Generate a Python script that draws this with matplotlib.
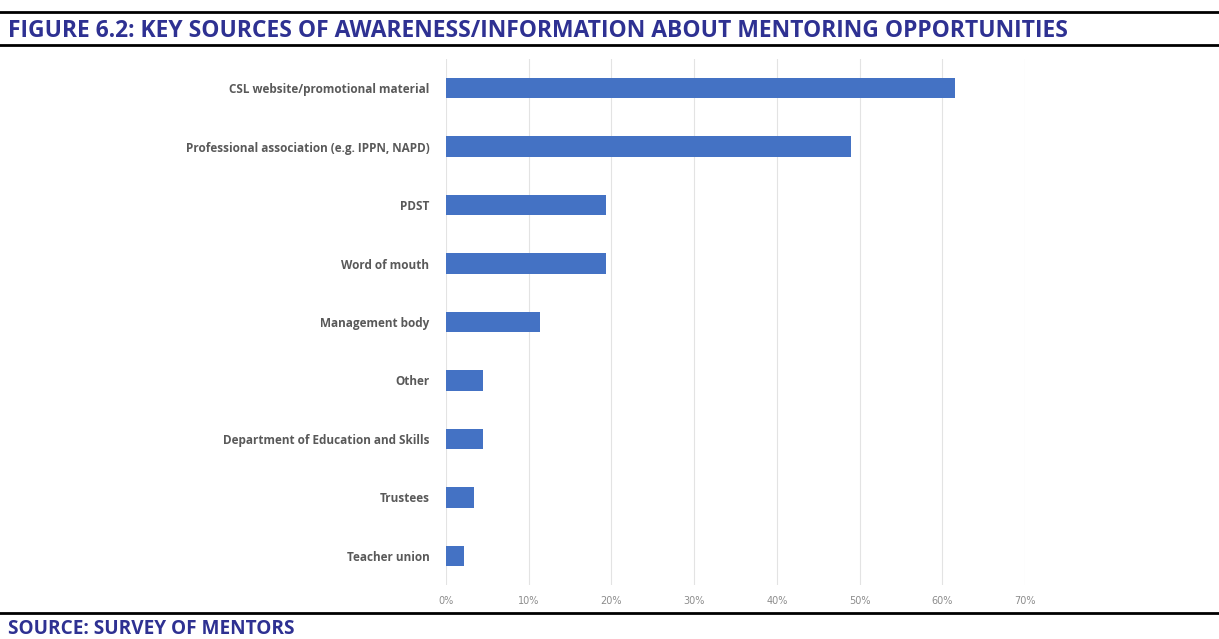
import matplotlib.pyplot as plt
from matplotlib.ticker import PercentFormatter

# Sources of awareness (top to bottom) and share of mentors
sources = [
    "CSL website/promotional material",
    "Professional association (e.g. IPPN, NAPD)",
    "PDST",
    "Word of mouth",
    "Management body",
    "Other",
    "Department of Education and Skills",
    "Trustees",
    "Teacher union",
]
shares = [0.615, 0.49, 0.193, 0.193, 0.114, 0.045, 0.045, 0.034, 0.022]

title = "FIGURE 6.2: KEY SOURCES OF AWARENESS/INFORMATION ABOUT MENTORING OPPORTUNITIES"
source_note = "SOURCE: SURVEY OF MENTORS"

W, H = 1219, 639
fig = plt.figure(figsize=(W / 100, H / 100), dpi=100)

# axes placed in pixel coordinates
left, right, top, bottom = 446, 1025, 59, 585
ax = fig.add_axes([left / W, 1 - bottom / H, (right - left) / W, (bottom - top) / H])

ypos = list(range(len(sources)))
ax.barh(ypos, shares, height=0.35, color="#4472C4", zorder=3)
ax.set_ylim(len(sources) - 0.5, -0.5)
ax.set_xlim(0, 0.7)
ax.set_xticks([i / 10 for i in range(8)])
ax.xaxis.set_major_formatter(PercentFormatter(1.0, decimals=0))
ax.set_yticks(ypos)
ax.set_yticklabels(sources, fontsize=8.5, color="#595959", fontweight="bold",
                   family="Open Sans", fontstretch="condensed")
ax.tick_params(axis="x", labelsize=7, colors="#8c8c8c", length=0, pad=8)
ax.tick_params(axis="y", length=0, pad=12)
ax.grid(axis="x", color="#e3e3e3", linewidth=0.8, zorder=0)
for s in ax.spines.values():
    s.set_visible(False)

# title band lines and text
fig.add_artist(plt.Line2D([0, 1], [1 - 12 / H] * 2, color="black", lw=2, transform=fig.transFigure))
fig.add_artist(plt.Line2D([0, 1], [1 - 45 / H] * 2, color="black", lw=2, transform=fig.transFigure))
fig.text(8 / W, 1 - 31 / H, title, fontsize=16.5, fontweight="bold", color="#2E3192",
         va="center", ha="left", family="Open Sans", fontstretch="condensed")

fig.add_artist(plt.Line2D([0, 1], [1 - 613 / H] * 2, color="black", lw=2, transform=fig.transFigure))
fig.text(8 / W, 1 - 629 / H, source_note, fontsize=13.7, fontweight="bold", color="#2E3192",
         va="center", ha="left", family="Open Sans", fontstretch="condensed")

fig.savefig("out.png", dpi=100)
